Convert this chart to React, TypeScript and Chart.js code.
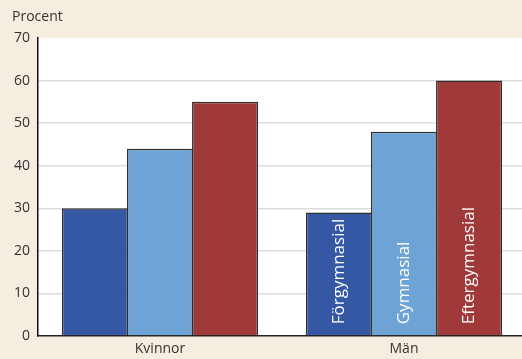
import React, { useEffect, useRef } from "react";
import { Chart, registerables } from "chart.js";

Chart.register(...registerables);

const categories = ["Kvinnor", "Män"];
const seriesNames = ["Förgymnasial", "Gymnasial", "Eftergymnasial"];
const forgymnasial = [30, 29];
const gymnasial = [44, 48];
const eftergymnasial = [55, 60];
const yTicks = [0, 10, 20, 30, 40, 50, 60, 70];
const yLabel = "Procent";

const colors = ["#3558a5", "#6ea3d5", "#a0393a"];
const FONT = "'Open Sans', 'DejaVu Sans', sans-serif";

export default function App() {
  const ref = useRef<HTMLCanvasElement | null>(null);
  useEffect(() => {
    document.body.style.margin = "0";
    const ctx = ref.current!.getContext("2d")!;
    const bgPlugin = {
      id: "bg",
      beforeDraw(chart: any) {
        const c = chart.ctx;
        const a = chart.chartArea;
        c.save();
        c.fillStyle = "#f5ede0";
        c.fillRect(0, 0, chart.width, chart.height);
        c.fillStyle = "#ffffff";
        c.fillRect(a.left, a.top, a.right - a.left, a.bottom - a.top);
        c.fillStyle = "#333333";
        c.font = `14px ${FONT}`;
        c.textAlign = "left";
        c.textBaseline = "middle";
        c.fillText(yLabel, 12, 17);
        c.restore();
      },
      afterDatasetsDraw(chart: any) {
        const c = chart.ctx;
        c.save();
        c.fillStyle = "#ffffff";
        c.font = `17px ${FONT}`;
        c.textAlign = "left";
        c.textBaseline = "middle";
        chart.data.datasets.forEach((ds: any, i: number) => {
          const el = chart.getDatasetMeta(i).data[1] as any;
          c.save();
          c.translate(el.x, el.base - 11);
          c.rotate(-Math.PI / 2);
          c.fillText(seriesNames[i], 0, 0);
          c.restore();
        });
        c.restore();
      },
    };
    const chart = new Chart(ctx, {
      type: "bar",
      data: {
        labels: categories,
        datasets: [forgymnasial, gymnasial, eftergymnasial].map((d, i) => ({
          label: seriesNames[i],
          data: d,
          backgroundColor: colors[i],
          borderColor: "#2e2e2e",
          borderWidth: 1.5,
          barPercentage: 1.015,
          categoryPercentage: 0.8,
        })),
      },
      options: {
        animation: false,
        responsive: false,
        devicePixelRatio: 1,
        layout: { padding: { top: 38, right: 0, left: 0, bottom: 0 } },
        plugins: { legend: { display: false }, tooltip: { enabled: false } },
        scales: {
          x: {
            grid: { display: false, drawTicks: false },
            border: { display: true, color: "#222222", width: 1.5 },
            ticks: { color: "#333333", font: { family: FONT, size: 14 }, padding: 5 },
            afterFit(scale: any) {
              scale.height = 23;
            },
          },
          y: {
            min: 0,
            max: 70,
            afterBuildTicks(scale: any) {
              scale.ticks = yTicks.map((v) => ({ value: v }));
            },
            grid: {
              drawTicks: false,
              color: (c: any) => (c.tick && (c.tick.value === 0 || c.tick.value === 70) ? "rgba(0,0,0,0)" : "#dddddd"),
              lineWidth: 1.5,
            },
            border: { display: true, color: "#111111", width: 1.5 },
            ticks: { color: "#333333", font: { family: FONT, size: 14 }, padding: 8 },
            afterFit(scale: any) {
              scale.width = 38;
            },
          },
        },
      },
      plugins: [bgPlugin],
    });
    return () => chart.destroy();
  }, []);
  return (
    <div style={{ position: "fixed", left: 0, top: 0, width: 522, height: 359, overflow: "hidden" }}>
      <canvas ref={ref} width={526} height={359} style={{ width: 526, height: 359, display: "block" }} />
    </div>
  );
}
